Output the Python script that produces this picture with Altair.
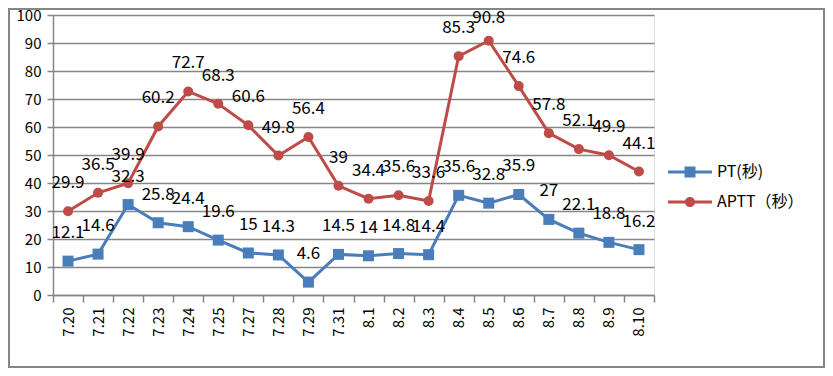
import altair as alt
import pandas as pd

dates = ["7.20", "7.21", "7.22", "7.23", "7.24", "7.25", "7.27", "7.28", "7.29", "7.31",
         "8.1", "8.2", "8.3", "8.4", "8.5", "8.6", "8.7", "8.8", "8.9", "8.10"]
pt = [12.1, 14.6, 32.3, 25.8, 24.4, 19.6, 15, 14.3, 4.6, 14.5,
      14, 14.8, 14.4, 35.6, 32.8, 35.9, 27, 22.1, 18.8, 16.2]
aptt = [29.9, 36.5, 39.9, 60.2, 72.7, 68.3, 60.6, 49.8, 56.4, 39,
        34.4, 35.6, 33.6, 85.3, 90.8, 74.6, 57.8, 52.1, 49.9, 44.1]
series_names = ["PT(秒)", "APTT（秒）"]
colors = ["#4A7EBB", "#BE4B48"]
y_ticks = list(range(0, 101, 10))

FONT = "Noto Sans CJK JP"
GRAY = "#868686"

rows = []
for name, vals in zip(series_names, [pt, aptt]):
    for d, v in zip(dates, vals):
        rows.append({"date": d, "value": v, "series": name})
df = pd.DataFrame(rows)

x_enc = alt.X("date:N", sort=dates,
              scale=alt.Scale(type="band", domain=dates, paddingInner=0, paddingOuter=0),
              axis=alt.Axis(title=None, tickBand="extent", labelAngle=270, tickSize=7,
                            labelPadding=5, labelFontSize=15, labelColor="black",
                            labelFont=FONT, domainColor=GRAY, tickColor=GRAY,
                            domainWidth=1.5, tickWidth=1.5, grid=False))
y_scale = alt.Scale(domain=[0, 100], nice=False)
y_axis = alt.Axis(title=None, values=y_ticks, tickSize=6, labelPadding=6,
                  labelFontSize=15, labelColor="black", labelFont=FONT,
                  domainColor=GRAY, tickColor=GRAY, domainWidth=1.5,
                  tickWidth=1.5, grid=True, gridColor=GRAY, gridWidth=1.5)
y_enc = alt.Y("value:Q", scale=y_scale, axis=y_axis)

base = alt.Chart(df)
layers = []

# border around the whole chart area
border = alt.Chart(pd.DataFrame({"a": [0]})).mark_rect(
    fill="transparent", stroke=GRAY, strokeWidth=2
).encode(x=alt.value(-44), x2=alt.value(771), y=alt.value(-6), y2=alt.value(352))
layers.append(border)

shapes = ["square", "circle"]
sizes = [121, 100]
for name, col, shp, sz in zip(series_names, colors, shapes, sizes):
    sub = base.transform_filter(alt.datum.series == name)
    layers.append(sub.mark_line(color=col, strokeWidth=3).encode(x=x_enc, y=y_enc))
    layers.append(sub.mark_point(shape=shp, filled=True, size=sz, color=col, opacity=1)
                  .encode(x=x_enc, y=y_enc))

# data labels: placed above each point, kept inside the chart area
for name in series_names:
    sub = base.transform_filter(alt.datum.series == name).transform_calculate(
        ly="min(datum.value + 10, 98.8)")
    layers.append(sub.mark_text(fontSize=17, font=FONT, color="black")
                  .encode(x=x_enc, y=alt.Y("ly:Q", scale=y_scale, axis=y_axis),
                          text=alt.Text("value:Q", format=".1~f")))

pt_path = "M-1,-0.07H1V0.07H-1Z M-0.25,-0.25H0.25V0.25H-0.25Z"
aptt_path = ("M-1,-0.07H1V0.07H-1Z M0.23,0A0.23,0.23 0 1,1 -0.23,0"
             "A0.23,0.23 0 1,1 0.23,0Z")

legend_layer = base.transform_filter("false").mark_point(filled=True, opacity=1).encode(
    color=alt.Color("series:N", scale=alt.Scale(domain=series_names, range=colors),
                    legend=alt.Legend(title=None, orient="none", legendX=615, legendY=135,
                                      symbolSize=1936, symbolStrokeWidth=0,
                                      labelFontSize=16, labelFont=FONT, labelColor="black",
                                      labelOffset=5, padding=0, rowPadding=0)),
    shape=alt.Shape("series:N", scale=alt.Scale(domain=series_names,
                                                range=[pt_path, aptt_path])),
)
layers.append(legend_layer)

chart = alt.layer(*layers).properties(
    width=601, height=280,
    autosize=alt.AutoSizeParams(type="none"),
    padding={"left": 45, "top": 7, "right": 171, "bottom": 73},
).configure_view(stroke=None).configure(font=FONT)

chart.save("out.html", embed_options={"renderer": "svg", "actions": False})
